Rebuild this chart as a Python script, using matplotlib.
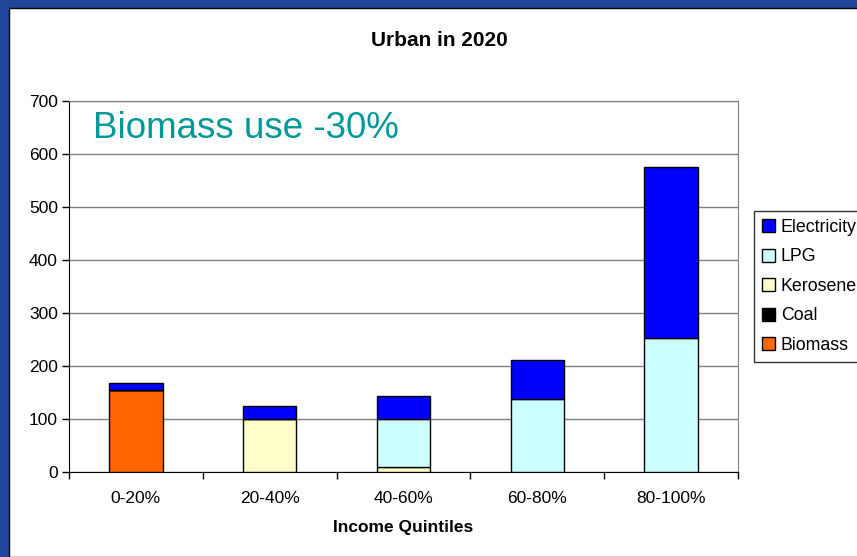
import numpy as np
import matplotlib.pyplot as plt
from matplotlib.patches import Rectangle

plt.rcParams['font.family'] = ['Liberation Sans', 'DejaVu Sans']

quintiles = ['0-20%', '20-40%', '40-60%', '60-80%', '80-100%']
biomass = [155, 0, 0, 0, 0]
coal = [0, 0, 0, 0, 0]
kerosene = [0, 100, 10, 0, 0]
lpg = [0, 0, 90, 138, 252]
electricity = [12, 25, 43, 74, 324]

series = [
    ('Biomass', biomass, '#FF6600'),
    ('Coal', coal, '#000000'),
    ('Kerosene', kerosene, '#FFFFCC'),
    ('LPG', lpg, '#CCFFFF'),
    ('Electricity', electricity, '#0000FF'),
]

fig = plt.figure(figsize=(8.57, 5.57), dpi=100)
fig.patch.set_facecolor('#21479A')

# white chart panel sitting on the blue slide frame
panel = Rectangle((9 / 857, 0), 1, 1 - 8 / 557, transform=fig.transFigure,
                  facecolor='white', edgecolor='black', linewidth=1, zorder=-1)
fig.patches.append(panel)

ax = fig.add_axes([69 / 857, 85 / 557, 669 / 857, 371 / 557])
ax.set_facecolor('white')

x = np.arange(len(quintiles))
bottom = np.zeros(len(quintiles))
handles = {}
for name, vals, color in series:
    vals = np.array(vals, dtype=float)
    bars = ax.bar(x, vals, width=0.4, bottom=bottom, color=color,
                  edgecolor='black', linewidth=1, zorder=3, label=name)
    handles[name] = bars
    bottom += vals

ax.set_xlim(-0.5, len(quintiles) - 0.5)
ax.set_ylim(0, 700)
ax.set_yticks(np.arange(0, 701, 100))
ax.yaxis.grid(True, color='#808080', linewidth=1, zorder=0)

ax.set_xticks(x)
ax.set_xticklabels(quintiles, fontsize=12.5)
ax.set_xticks(np.arange(-0.5, len(quintiles), 1), minor=True)
ax.tick_params(axis='x', which='major', length=0, pad=14)
ax.tick_params(axis='x', which='minor', length=5, width=1, direction='out')
ax.tick_params(axis='y', length=5, width=1, direction='out', labelsize=12.5, pad=3)

for side in ['top', 'right']:
    ax.spines[side].set_color('#808080')
for side in ['left', 'bottom']:
    ax.spines[side].set_color('black')

ax.set_xlabel('Income Quintiles', fontsize=12.5, fontweight='bold', labelpad=10)
fig.text(439 / 857, 1 - 40 / 557, 'Urban in 2020', ha='center', va='center',
         fontsize=15, fontweight='bold')
ax.text(0.036, 0.925, 'Biomass use -30%', transform=ax.transAxes,
        fontsize=26.5, color='#009999', va='center', ha='left', zorder=5)

order = ['Electricity', 'LPG', 'Kerosene', 'Coal', 'Biomass']
leg = fig.legend([handles[n] for n in order], order, loc='upper left',
                 bbox_to_anchor=(754 / 857, 1 - 211 / 557), fontsize=12.8,
                 frameon=True, fancybox=False, edgecolor='black',
                 handlelength=0.75, handleheight=0.75, handletextpad=0.3,
                 labelspacing=0.7, borderpad=0.45, borderaxespad=0)
leg.get_frame().set_linewidth(1)

fig.savefig('out.png', dpi=100, facecolor=fig.get_facecolor())
